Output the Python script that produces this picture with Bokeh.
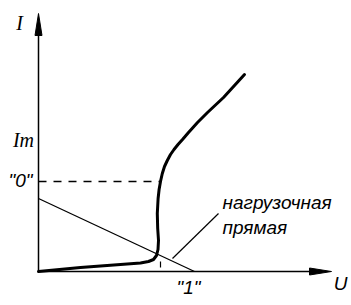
from bokeh.plotting import figure
from bokeh.models import Range1d
from bokeh.embed import file_html
from bokeh.resources import INLINE
from bokeh.core.properties import value

# --- data (U, I in arbitrary units) ---
curve_u = [0, 42, 82, 102, 110, 115, 118, 119.5, 120, 119.2, 118.8, 119.6, 120.6, 122, 123.8,
           126, 128.8, 132, 135.5, 139.5, 144, 150, 159, 169, 185, 206]
curve_i = [0, 4, 7, 8.5, 10, 12, 16, 22, 31, 43, 58, 73, 82, 90, 98,
           105, 111, 117, 122, 127, 132, 139, 149, 159, 174, 197]

load_u = [0, 156]
load_i = [73, 0]

level0_i = 90          # "0" level
level0_u = 122
op_u = 122             # operating point projection
op_i = [4, 10]

leader_u = [134, 180]
leader_i = [13, 58]

u_axis_end = 293
i_axis_end = 258

labels_serif = ["I", "Im"]
labels_serif_u = [-19, -15]
labels_serif_i = [249, 132]

labels_sans = ['"0"', '"1"', "U"]
labels_sans_u = [-18, 150, 302]
labels_sans_i = [91, -16, -12]

note_lines = ["нагрузочная", "прямая"]
note_u = [184, 184]
note_i = [69, 44]

p = figure(width=351, height=305, x_range=Range1d(-38, 313), y_range=Range1d(-34, 271),
           output_backend="svg", toolbar_location=None, min_border=0)
p.axis.visible = False
p.grid.visible = False
p.outline_line_color = None
p.background_fill_color = "white"

ink = "black"
# axes
p.line([0, u_axis_end - 20], [0, 0], line_color=ink, line_width=1.5)
p.line([0, 0], [0, i_axis_end - 20], line_color=ink, line_width=1.5)
hl, hw = 22, 3.5
p.patch([u_axis_end - hl, u_axis_end, u_axis_end - hl], [hw, 0, -hw], color=ink)
p.patch([-hw, 0, hw], [i_axis_end - hl, i_axis_end, i_axis_end - hl], color=ink)

# load line
p.line(load_u, load_i, line_color=ink, line_width=1.3)
# dashed level
p.line([0, level0_u], [level0_i, level0_i], line_color=ink, line_width=1.3, line_dash="8 7")
# operating point tick
p.line([op_u, op_u], op_i, line_color=ink, line_width=1.2)
# leader
p.line(leader_u, leader_i, line_color=ink, line_width=1.2)
# characteristic
p.line(curve_u, curve_i, line_color=ink, line_width=3, line_join="round", line_cap="round")

p.text(labels_serif_u, labels_serif_i, text=labels_serif, text_font=value("Liberation Serif"),
       text_font_style="italic", text_font_size="20px", text_align="center", text_baseline="middle",
       text_color=ink)
p.text(labels_sans_u, labels_sans_i, text=labels_sans, text_font=value("Liberation Sans"),
       text_font_style="italic", text_font_size="19px", text_align="center", text_baseline="middle",
       text_color=ink)
p.text(note_u, note_i, text=note_lines, text_font=value("Liberation Sans"),
       text_font_style="italic", text_font_size="19px", text_align="left", text_baseline="alphabetic",
       text_color=ink)

open("out.html", "w").write(file_html(p, INLINE))
